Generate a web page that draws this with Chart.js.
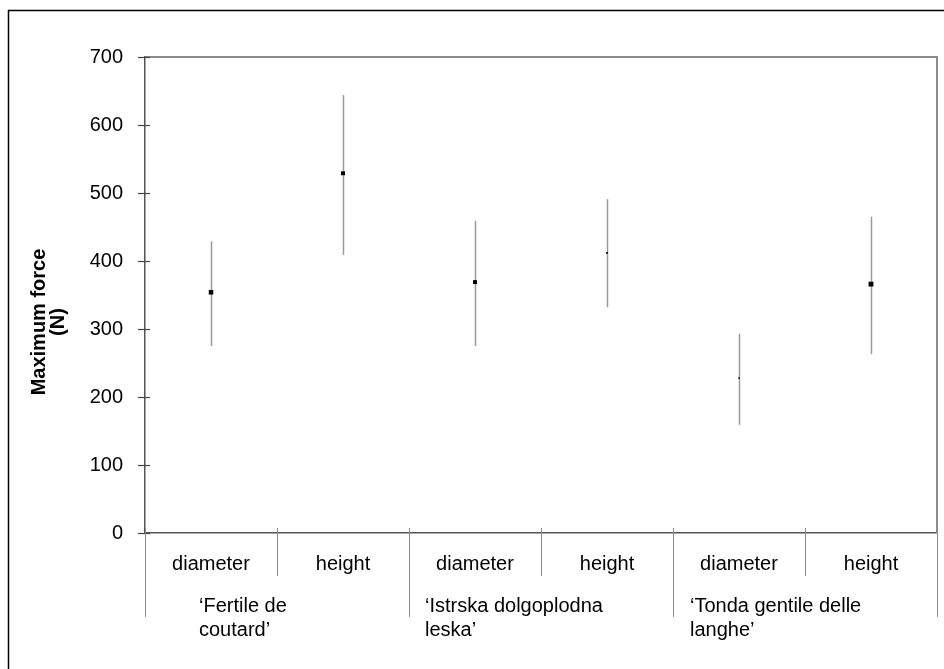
<!DOCTYPE html>
<html>
<head>
<meta charset="utf-8">
<script src="https://cdn.jsdelivr.net/npm/chart.js@4.4.1/dist/chart.umd.min.js"></script>
<style>
  html, body { margin: 0; padding: 0; background: #fff; }
  #wrap { position: relative; width: 944px; height: 669px; }
</style>
</head>
<body>
<div id="wrap"><canvas id="forceChart"></canvas></div>
<script>
// Categories (measurement direction) and cultivar groups
const categories = ['diameter', 'height', 'diameter', 'height', 'diameter', 'height'];
const groupLines = [
    ['\u2018Fertile de', 'coutard\u2019'],
    ['\u2018Istrska dolgoplodna', 'leska\u2019'],
    ['\u2018Tonda gentile delle', 'langhe\u2019']
];

// Maximum force (N): mean with upper / lower bar ends
const meanForce = [354, 529, 369, 412, 228, 366];
const upperForce = [429, 644, 459, 491, 293, 465];
const lowerForce = [275, 409, 275, 332, 159, 263];

const yTicks = [0, 100, 200, 300, 400, 500, 600, 700];

const FONT = '"Liberation Sans", Arial, sans-serif';

// Draws frame, ticks, error bars, separators and group labels
const decorPlugin = {
    id: 'decor',
    beforeDatasetsDraw(chart) {
        const ctx = chart.ctx;
        const x = chart.scales.x, y = chart.scales.y;
        ctx.save();
        ctx.strokeStyle = '#9a9a9a';
        ctx.lineWidth = 1.5;
        meanForce.forEach((m, i) => {
            const px = Math.round(x.getPixelForValue(i)) + 0.5;
            ctx.beginPath();
            ctx.moveTo(px, y.getPixelForValue(upperForce[i]));
            ctx.lineTo(px, y.getPixelForValue(lowerForce[i]));
            ctx.stroke();
        });
        ctx.restore();
    },
    afterDraw(chart) {
        const ctx = chart.ctx;
        const area = chart.chartArea;
        const x = chart.scales.x, y = chart.scales.y;
        ctx.save();

        // outer frame (only top and left visible)
        ctx.strokeStyle = '#000';
        ctx.lineWidth = 1.5;
        ctx.beginPath();
        ctx.moveTo(8.5, chart.height + 5);
        ctx.lineTo(8.5, 10.5);
        ctx.lineTo(chart.width + 5, 10.5);
        ctx.stroke();

        // top and right plot border
        ctx.strokeStyle = '#8c8c8c';
        ctx.lineWidth = 2;
        ctx.beginPath();
        ctx.moveTo(area.left, area.top);
        ctx.lineTo(area.right, area.top);
        ctx.lineTo(area.right, area.bottom);
        ctx.stroke();

        // y axis tick marks
        ctx.strokeStyle = '#444';
        ctx.lineWidth = 1.2;
        yTicks.forEach(v => {
            const py = Math.round(y.getPixelForValue(v)) + 0.5;
            ctx.beginPath();
            ctx.moveTo(area.left - 7, py);
            ctx.lineTo(area.left + 5, py);
            ctx.stroke();
        });

        // category separators
        const catW = (x.right - x.left) / categories.length;
        ctx.strokeStyle = '#8c8c8c';
        ctx.lineWidth = 1;
        for (let i = 0; i <= categories.length; i++) {
            const px = Math.round(x.left + i * catW) + 0.5;
            ctx.beginPath();
            ctx.moveTo(px, area.bottom - 5);
            ctx.lineTo(px, area.bottom + (i % 2 === 0 ? 84 : 43));
            ctx.stroke();
        }

        // cultivar group labels
        const offsets = [54, 16, 17];
        ctx.fillStyle = '#000';
        ctx.font = '20px ' + FONT;
        ctx.textAlign = 'left';
        ctx.textBaseline = 'middle';
        groupLines.forEach((lines, g) => {
            const gx = x.left + g * 2 * catW + offsets[g];
            lines.forEach((t, k) => ctx.fillText(t, gx, area.bottom + 73 + k * 24));
        });

        // y axis title
        ctx.font = 'bold 20px ' + FONT;
        ctx.textAlign = 'center';
        ctx.translate(0, 322);
        ctx.rotate(-Math.PI / 2);
        ctx.fillText('Maximum force', 0, 39);
        ctx.fillText('(N)', 0, 58);
        ctx.restore();
    }
};

const ctx = document.getElementById('forceChart').getContext('2d');
const forceChart = new Chart(ctx, {
    type: 'line',
    data: {
        labels: categories,
        datasets: [{
            label: 'Maximum force',
            data: meanForce,
            showLine: false,
            pointStyle: 'rect',
            pointRadius: [3.2, 2.8, 2.8, 1.3, 1.1, 3.4],
            pointBackgroundColor: '#000',
            pointBorderColor: '#000',
            pointBorderWidth: 0
        }]
    },
    options: {
        responsive: true,
        maintainAspectRatio: false,
        animation: false,
        layout: { padding: { left: 0, top: 57, right: 7, bottom: 0 } },
        plugins: {
            legend: { display: false },
            tooltip: { enabled: false }
        },
        scales: {
            x: {
                type: 'category',
                offset: true,
                grid: { display: false },
                border: { display: true, color: '#555', width: 1.5 },
                ticks: {
                    color: '#000',
                    padding: 11,
                    maxRotation: 0,
                    autoSkip: false,
                    font: { family: FONT, size: 20 }
                },
                afterFit(scale) { scale.height = 136; }
            },
            y: {
                min: 0,
                max: 700,
                grid: { display: false },
                border: { display: true, color: '#555', width: 1.5 },
                ticks: {
                    stepSize: 100,
                    color: '#000',
                    padding: 14,
                    font: { family: FONT, size: 20 }
                },
                afterFit(scale) { scale.width = 145; }
            }
        }
    },
    plugins: [decorPlugin]
});
</script>
</body>
</html>
